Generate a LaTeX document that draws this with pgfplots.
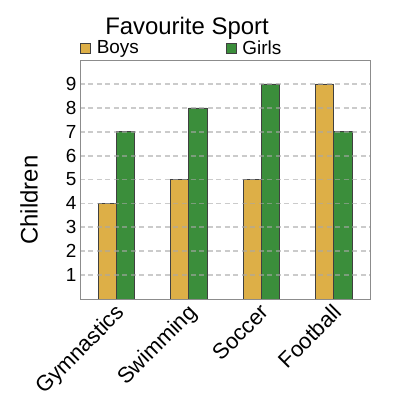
\documentclass[border=0pt]{standalone}
\usepackage{pgfplots}
\pgfplotsset{compat=1.18}
\usepackage{fontspec}
\setmainfont{Liberation Sans}
\definecolor{boys}{HTML}{DDAF47}
\definecolor{girls}{HTML}{3B8E3B}
\definecolor{gridc}{HTML}{A8A8A8}
\begin{document}
\begin{tikzpicture}
\begin{axis}[
    width=290bp, height=239bp, scale only axis,
    axis on top,
    ymin=0, ymax=10,
    xmin=-0.5, xmax=3.5,
    xtick={0,1,2,3},
    xticklabels={Gymnastics,Swimming,Soccer,Football},
    ytick={1,...,9},
    tick style={draw=none},
    axis line style={draw=gray!90, line width=0.8pt},
    ymajorgrids,
    major grid style={gridc, opacity=0.6, dash pattern=on 5bp off 3.5bp, line width=1.8bp},
    xticklabel style={rotate=45, anchor=north east, font=\fontsize{22}{26}\selectfont, inner sep=1bp, xshift=-3bp},
    yticklabel style={font=\fontsize{19}{22}\selectfont},
    /pgf/number format/assume math mode=true,
    ylabel={Children},
    ylabel style={at={(axis description cs:-0.176,0.414)}, anchor=center, rotate=0, font=\fontsize{24}{28}\selectfont},
    title={Favourite Sport},
    title style={at={(axis description cs:0.369,1)}, anchor=south, yshift=11bp, font=\fontsize{24}{28}\selectfont},
    legend columns=2,
    legend style={at={(axis description cs:0,1)}, anchor=south west, draw=none, fill=none,
        font=\fontsize{19}{22}\selectfont, column sep=4bp, inner sep=0pt, yshift=2bp},
    legend image code/.code={\draw[#1] (0bp,-5bp) rectangle (10bp,5bp);},
    /tikz/every even column/.append style={column sep=85bp},
]
\addplot[ybar, bar width=0.25, bar shift=-0.125, fill=boys, draw=black!75, line width=0.6pt] coordinates {
    (0,4) (1,5) (2,5) (3,9)
};
\addlegendentry{Boys}
\addplot[ybar, bar width=0.25, bar shift=0.125, fill=girls, draw=black!75, line width=0.6pt] coordinates {
    (0,7) (1,8) (2,9) (3,7)
};
\addlegendentry{Girls}
\coordinate (sw) at (rel axis cs:0,0);
\end{axis}
\pgfresetboundingbox
\path[use as bounding box] ([shift={(-80bp,-101bp)}]sw) rectangle ([shift={(320bp,299bp)}]sw);
\end{tikzpicture}
\end{document}
